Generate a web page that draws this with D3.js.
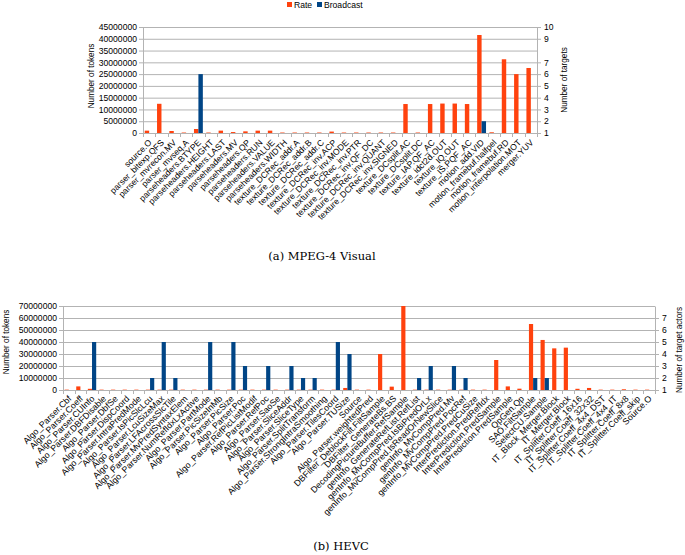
<!DOCTYPE html>
<html><head><meta charset="utf-8">
<script src="https://cdn.jsdelivr.net/npm/d3@7"></script>
<style>
body{margin:0;background:#fff}
svg{display:block}
text{font-family:"Liberation Sans",Arial,sans-serif;fill:#000}
.caption{font-family:"DejaVu Serif",serif}
</style>
</head><body><svg id="c" width="685" height="555"></svg>
<script>
// ---------- DATA ----------
const seriesNames = ["Rate", "Broadcast"];
const seriesColors = ["#ff420e", "#004586"];

const mpegCategories = [
  "source.O","parser_bitexp.QFS","parser_mvrecon.MV","parser_mvseq.A",
  "parseheaders.BTYPE","parseheaders.HEIGHT","parseheaders.LAST","parseheaders.MV",
  "parseheaders.QP","parseheaders.RUN","parseheaders.VALUE","parseheaders.WIDTH",
  "texture_DCRec_addr.A","texture_DCRec_addr.B","texture_DCRec_addr.C","texture_DCRec_inv.ACP",
  "texture_DCRec_inv.MODE","texture_DCRec_inv.PTR","texture_DCRec_inv.QF_DC","texture_DCRec_inv.QUANT",
  "texture_DCRec_inv.SIGNED","texture_DCsplit.AC","texture_DCsplit.DC","texture_IAP.QF_AC",
  "texture_idct2d.OUT","texture_IQ.OUT","texture_IS.PQF_AC","motion_add.VID",
  "motion_framebuf.halfpel","motion_framebuf.RD","motion_interpolation.MOT","merger.YUV"
];
const mpegRate = [
  1000000,12400000,850000,200000,
  1700000,200000,1000000,400000,
  700000,1000000,1000000,200000,
  200000,200000,200000,600000,
  200000,200000,200000,200000,
  200000,12300000,200000,12300000,
  12500000,12500000,12300000,41600000,
  300000,31300000,25000000,27600000
];
const mpegBroadcast = [
  null,null,null,null, 6,null,null,null, null,null,null,null, null,null,null,null,
  null,null,null,null, null,null,null,null, null,null,null,2, null,null,null,null
];
const mpegTokenTicks = [0,5000000,10000000,15000000,20000000,25000000,30000000,35000000,40000000,45000000];
const mpegTargetTicks = [1,2,3,4,5,6,7,9,10];

const hevcCategories = [
  "Algo_Parser.Cbf","Algo_Parser.Coeff","Algo_Parser.CUInfo","Algo_Parser.DBFDisable",
  "Algo_Parser.DbfSe","Algo_Parser.DispCoord","Algo_Parser.IntraPredMode","Algo_Parser.IsPicSlcLcu",
  "Algo_Parser.LcuSizeMax","Algo_Parser.LFAcrossSlcTile","Algo_Parser.MvPredSyntaxElem","Algo_Parser.NumRefIdxLxActive",
  "Algo_Parser.PartMode","Algo_Parser.PicSizeInMb","Algo_Parser.PicSize","Algo_Parser.Poc",
  "Algo_Parser.RefPicListModif","Algo_Parser.RefPoc","Algo_Parser.SaoSe","Algo_Parser.SliceAddr",
  "Algo_Parser.SliceType","Algo_Parser.SplitTransform","Algo_Parser.StrongIntraSmoothing","Algo_Parser.TilesCoord",
  "Algo_Parser.TUSize","Source","Algo_Parser.weightedPred","DBFilter_DeblockFilt.FiltSample",
  "DBFilter_GenerateBs.BS","DecodingPictureBuffer.RefSample","genInfo_GenerateRefList.RefList","genInfo_MvCompPred.IsBiPredOrLx",
  "genInfo_MvCompPred.IsReadOrNewSlice","genInfo_MvCompPred.Mv","genInfo_MvCompPred.PocRef","genInfo_MvCompPred.PredCuSize",
  "InterPrediction.PredRefIdx","InterPrediction.PredSample","IntraPrediction.PredSample","QpGen.Qp",
  "SAO.FiltSample","SelectCU.Sample","IT_Block_Merger.Block","IT_Merger.Block",
  "IT_Splitter.Coeff_16x16","IT_Splitter.Coeff_32x32","IT_Splitter.Coeff_4x4_DST","IT_Splitter.Coeff_4x4_IT",
  "IT_Splitter.Coeff_8x8","IT_Splitter.Coeff_skip","Source.O"
];
const hevcRate = [
  300000,3000000,1000000,300000, 300000,300000,300000,300000,
  300000,300000,300000,300000, 300000,300000,300000,300000,
  300000,300000,300000,300000, 300000,300000,300000,300000,
  1700000,300000,300000,30000000, 2800000,70000000,300000,300000,
  300000,300000,300000,300000, 300000,25000000,3000000,1100000,
  55000000,41700000,34700000,35300000, 1000000,1700000,300000,300000,
  600000,300000,300000
];
const hevcBroadcast = [
  null,null,5,null, null,null,null,2,
  5,2,null,null, 5,null,5,3,
  null,3,null,3, 2,2,null,5,
  4,null,null,null, null,null,2,3,
  null,3,2,null, null,null,null,null,
  2,2,null,null, null,null,null,null,
  null,null,null
];
const hevcTokenTicks = [0,10000000,20000000,30000000,40000000,50000000,60000000,70000000];
const hevcTargetTicks = [1,2,3,4,5,6,7];

// ---------- DRAW ----------
const svg = d3.select("#c");
const grid = "#b3b3b3";

function drawChart(o) {
  const g = svg.append("g");
  const x0 = d3.scaleBand().domain(o.categories).range([o.left, o.right]);
  const bw = x0.bandwidth();
  const x1 = d3.scaleBand().domain(seriesNames).range([bw*0.14, bw*0.86]);
  const yL = d3.scaleLinear().domain(o.leftDomain).range([o.bottom, o.top]);
  const yR = d3.scaleLinear().domain(o.rightDomain).range([o.bottom, o.top]);

  // gridlines
  g.append("g").attr("transform", `translate(${o.left},0)`)
    .call(d3.axisLeft(yL).tickValues(o.leftTicks).tickSize(-(o.right - o.left)).tickFormat(""))
    .call(s => s.select(".domain").remove())
    .call(s => s.selectAll("line").attr("stroke", grid).attr("stroke-width", 1));

  // left axis
  const la = g.append("g").attr("transform", `translate(${o.left},0)`)
    .call(d3.axisLeft(yL).tickValues(o.leftTicks).tickSize(4).tickSizeOuter(0).tickPadding(2).tickFormat(d3.format("d")));
  la.select(".domain").attr("stroke", grid);
  la.selectAll("line").attr("stroke", grid);
  la.selectAll("text").attr("font-size", "8.6px").attr("font-family", "Liberation Sans").attr("fill", "#000");

  // right axis
  const ra = g.append("g").attr("transform", `translate(${o.right},0)`)
    .call(d3.axisRight(yR).tickValues(o.rightTicks).tickSize(4).tickSizeOuter(0).tickPadding(3).tickFormat(d3.format("d")));
  ra.select(".domain").attr("stroke", grid);
  ra.selectAll("line").attr("stroke", grid);
  ra.selectAll("text").attr("font-size", "8.6px").attr("font-family", "Liberation Sans").attr("fill", "#000");

  // bars: Rate on left scale
  g.append("g").selectAll("rect").data(o.categories.map((c, i) => ({c, v: o.rate[i]})))
    .join("rect")
    .attr("x", d => x0(d.c) + x1("Rate"))
    .attr("width", x1.bandwidth())
    .attr("y", d => yL(d.v))
    .attr("height", d => yL(0) - yL(d.v))
    .attr("fill", seriesColors[0]);
  // Broadcast on right scale
  g.append("g").selectAll("rect").data(o.categories.map((c, i) => ({c, v: o.broadcast[i]})).filter(d => d.v != null))
    .join("rect")
    .attr("x", d => x0(d.c) + x1("Broadcast"))
    .attr("width", x1.bandwidth())
    .attr("y", d => yR(d.v))
    .attr("height", d => yR(o.rightDomain[0]) - yR(d.v))
    .attr("fill", seriesColors[1]);

  // x axis line + boundary ticks
  g.append("line").attr("x1", o.left).attr("x2", o.right).attr("y1", o.bottom + 0.5).attr("y2", o.bottom + 0.5).attr("stroke", grid);
  const bounds = o.categories.map(c => x0(c)).concat([o.right]);
  g.append("g").selectAll("line").data(bounds).join("line")
    .attr("x1", d => Math.round(d) + 0.5).attr("x2", d => Math.round(d) + 0.5)
    .attr("y1", o.bottom).attr("y2", o.bottom + 4).attr("stroke", grid);

  // category labels
  g.append("g").selectAll("text").data(o.categories).join("text")
    .attr("transform", d => `translate(${x0(d) + bw/2 + o.labelDx},${o.bottom + o.labelDy}) rotate(-45)`)
    .attr("text-anchor", "end")
    .attr("dy", "0.35em")
    .attr("font-size", o.labelSize)
    .text(d => d);

  // axis titles
  g.append("text").attr("transform", `translate(${o.leftTitleX},${o.leftTitleY}) rotate(-90)`)
    .attr("text-anchor", "middle").attr("font-size", "8.2px").text(o.leftTitle);
  g.append("text").attr("transform", `translate(${o.rightTitleX},${o.rightTitleY}) rotate(-90)`)
    .attr("text-anchor", "middle").attr("font-size", "8.2px").text(o.rightTitle);

  // caption
  g.append("text").attr("class", "caption").attr("x", o.captionX).attr("y", o.captionY)
    .attr("text-anchor", "middle").attr("font-size", "11.5px").text(o.caption);
}

drawChart({
  categories: mpegCategories, rate: mpegRate, broadcast: mpegBroadcast,
  left: 143, right: 537, top: 27, bottom: 133,
  leftDomain: [0, 45000000], rightDomain: [1, 10],
  leftTicks: mpegTokenTicks, rightTicks: mpegTargetTicks,
  labelDx: 1, labelDy: 8, labelSize: "8.6px",
  leftTitle: "Number of tokens", leftTitleX: 94, leftTitleY: 76,
  rightTitle: "Number of targets", rightTitleX: 567, rightTitleY: 80,
  caption: "(a) MPEG-4 Visual", captionX: 322, captionY: 260
});

drawChart({
  categories: hevcCategories, rate: hevcRate, broadcast: hevcBroadcast,
  left: 63, right: 655, top: 306, bottom: 390,
  leftDomain: [0, 70000000], rightDomain: [1, 8],
  leftTicks: hevcTokenTicks, rightTicks: hevcTargetTicks,
  labelDx: 1, labelDy: 7, labelSize: "8.8px",
  leftTitle: "Number of tokens", leftTitleX: 9, leftTitleY: 342,
  rightTitle: "Number of target actors", rightTitleX: 682, rightTitleY: 350,
  caption: "(b) HEVC", captionX: 341, captionY: 550
});

// legend (top chart)
const lg = svg.append("g");
const lx = [287, 317];
seriesNames.forEach((n, i) => {
  lg.append("rect").attr("x", lx[i]).attr("y", 2).attr("width", 5).attr("height", 5).attr("fill", seriesColors[i]);
  lg.append("text").attr("x", lx[i] + 7).attr("y", 8).attr("font-size", "8.6px").text(n);
});
</script>
</body></html>
